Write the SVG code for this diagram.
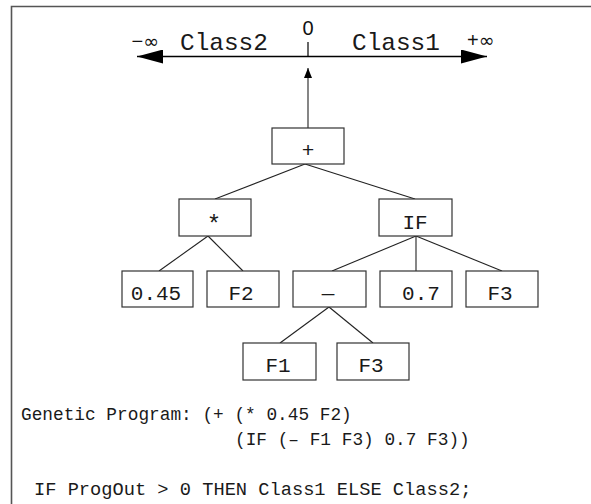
<svg xmlns="http://www.w3.org/2000/svg" width="591" height="504" viewBox="0 0 591 504">
<defs>
<style>
.box{fill:#fff;stroke:#333;stroke-width:1.2}
.edge{stroke:#222;stroke-width:1.1;fill:none}
.lbl{font-family:"Liberation Mono","DejaVu Sans Mono",monospace;font-size:21px;fill:#1a1a1a;text-anchor:middle}
.cls{font-family:"Liberation Mono","DejaVu Sans Mono",monospace;font-size:24.4px;fill:#1a1a1a}
.sym{font-family:"Liberation Sans","DejaVu Sans",sans-serif;font-size:20px;fill:#111}
.inf{font-family:"DejaVu Sans",sans-serif;font-size:19px}
.code{font-family:"Liberation Mono","DejaVu Sans Mono",monospace;font-size:17.8px;fill:#1a1a1a;white-space:pre}
</style>
<marker id="big" viewBox="0 0 26 14" markerWidth="26" markerHeight="14" refX="26" refY="7" orient="auto-start-reverse" markerUnits="userSpaceOnUse">
<path d="M0,0 L26,7 L0,14 z" fill="#000"/>
</marker>
<marker id="small" viewBox="0 0 10 8" markerWidth="10" markerHeight="8" refX="10" refY="4" orient="auto" markerUnits="userSpaceOnUse">
<path d="M0,0 L10,4 L0,8 z" fill="#000"/>
</marker>
</defs>
<rect x="0" y="0" width="591" height="504" fill="#fff"/>
<path d="M11.5,504 V6.5 H591" fill="none" stroke="#555" stroke-width="1.6"/>

<g id="axis">
<line x1="137" y1="56.5" x2="487" y2="56.5" stroke="#000" stroke-width="1.5" marker-start="url(#big)" marker-end="url(#big)"/>
<line x1="308" y1="42" x2="308" y2="56" stroke="#000" stroke-width="1.2"/>
<text class="sym" x="308" y="35" text-anchor="middle">0</text>
<text class="sym" x="159" y="48" text-anchor="end">−<tspan class="inf">∞</tspan></text>
<text class="sym" x="467" y="47">+<tspan class="inf">∞</tspan></text>
<text class="cls" x="180" y="50">Class2</text>
<text class="cls" x="352" y="50">Class1</text>
</g>

<g id="connectors">
<line class="edge" x1="308" y1="128" x2="308" y2="68" marker-end="url(#small)"/>
<line class="edge" x1="305" y1="164" x2="215" y2="199"/>
<line class="edge" x1="305" y1="164" x2="415" y2="199"/>
<line class="edge" x1="208" y1="236" x2="159" y2="271"/>
<line class="edge" x1="208" y1="236" x2="243" y2="271"/>
<line class="edge" x1="416" y1="236" x2="332" y2="271"/>
<line class="edge" x1="416" y1="236" x2="416" y2="271"/>
<line class="edge" x1="416" y1="236" x2="502" y2="271"/>
<line class="edge" x1="329" y1="307" x2="280" y2="343"/>
<line class="edge" x1="329" y1="307" x2="373" y2="343"/>
</g>

<g id="n-plus"><rect class="box" x="272" y="128" width="72" height="36"/><text class="lbl" x="308" y="157">+</text></g>
<g id="n-times"><rect class="box" x="179" y="199" width="72" height="37"/><text class="lbl" x="214" y="232" style="font-size:24px">*</text></g>
<g id="n-if"><rect class="box" x="379" y="199" width="73" height="37"/><text class="lbl" x="415" y="229">IF</text></g>
<g id="n-045"><rect class="box" x="122" y="271" width="71" height="36"/><text class="lbl" x="156" y="300">0.45</text></g>
<g id="n-f2"><rect class="box" x="207" y="271" width="72" height="36"/><text class="lbl" x="241" y="300">F2</text></g>
<g id="n-minus"><rect class="box" x="293" y="271" width="73" height="36"/><text class="lbl" x="328" y="300">—</text></g>
<g id="n-07"><rect class="box" x="380" y="271" width="72" height="36"/><text class="lbl" x="421" y="300">0.7</text></g>
<g id="n-f3a"><rect class="box" x="466" y="271" width="72" height="36"/><text class="lbl" x="500" y="300">F3</text></g>
<g id="n-f1"><rect class="box" x="243" y="343" width="73" height="37"/><text class="lbl" x="278" y="372">F1</text></g>
<g id="n-f3b"><rect class="box" x="337" y="343" width="72" height="37"/><text class="lbl" x="371" y="372">F3</text></g>

<g id="program">
<text class="code" x="21" y="420">Genetic Program: (+ (* 0.45 F2)</text>
<text class="code" x="235" y="445">(IF (– F1 F3) 0.7 F3))</text>
<text class="code" x="34" y="495" style="font-size:18.7px">IF ProgOut &gt; 0 THEN Class1 ELSE Class2;</text>
</g>
</svg>
